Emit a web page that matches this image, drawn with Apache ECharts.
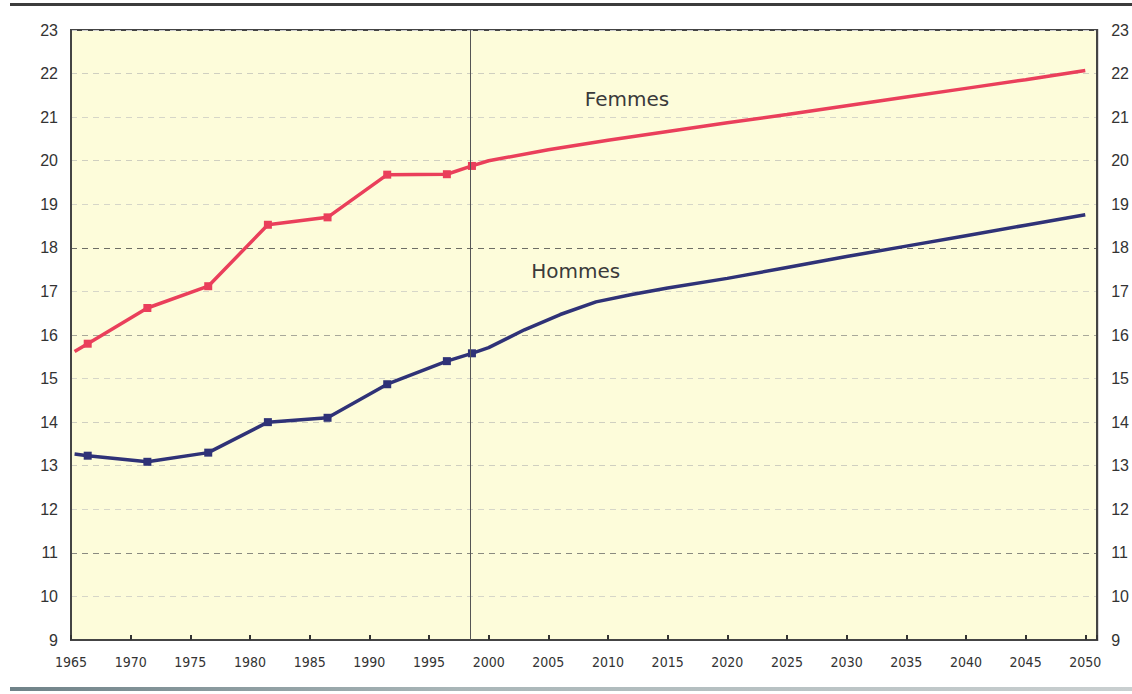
<!DOCTYPE html>
<html>
<head>
<meta charset="utf-8">
<script src="https://cdn.jsdelivr.net/npm/echarts@6/dist/echarts.min.js"></script>
<style>
  html, body { margin: 0; padding: 0; background: #fff; }
  #chart { width: 1132px; height: 694px; }
</style>
</head>
<body>
<div id="chart"></div>
<script>
// observed years (markers), then projection
var obsYears = [1965.3, 1966.4, 1971.4, 1976.5, 1981.5, 1986.5, 1991.5, 1996.5, 1998.6];
var femmesObs = [15.62, 15.8, 16.62, 17.12, 18.53, 18.7, 19.68, 19.69, 19.88];
var hommesObs = [13.27, 13.23, 13.09, 13.3, 14.0, 14.1, 14.87, 15.4, 15.58];

var femmesProjYears = [2000, 2005, 2010, 2015, 2020, 2025, 2030, 2035, 2040, 2045, 2050];
var femmesProj = [20.0, 20.25, 20.47, 20.67, 20.87, 21.06, 21.26, 21.46, 21.66, 21.86, 22.07];

var hommesProjYears = [2000, 2003, 2006, 2009, 2012, 2015, 2020, 2025, 2030, 2035, 2040, 2045, 2050];
var hommesProj = [15.71, 16.12, 16.47, 16.76, 16.93, 17.08, 17.3, 17.55, 17.8, 18.04, 18.28, 18.52, 18.76];

var markerIdx = [1, 2, 3, 4, 5, 6, 7, 8];   // observed points that carry a marker
var splitYear = 1998.5;

var red = '#ea3f5b';
var navy = '#2f3277';
var labelFont = 'Liberation Sans';

function buildLine(obs, projYears, proj) {
  var out = [];
  obsYears.forEach(function(y, i) {
    out.push({ value: [y, obs[i]], symbol: markerIdx.indexOf(i) >= 0 ? 'rect' : 'none' });
  });
  projYears.forEach(function(y, i) {
    out.push({ value: [y, proj[i]], symbol: 'none' });
  });
  return out;
}

function nameTag(text, coord) {
  return {
    symbol: 'circle',
    symbolSize: 1,
    itemStyle: { color: 'transparent' },
    label: { show: true, position: 'inside', formatter: text, color: '#3a3a3a', fontSize: 20, fontFamily: 'DejaVu Sans' },
    data: [{ coord: coord }]
  };
}

// darker dashes at 11, 16 and 18, lighter elsewhere (9..23)
var gridColors = ['#ccc', '#d6d6c8', '#8a8a80', '#d6d6c8', '#cfcfc0', '#cfcfc0', '#d6d6c8',
  '#a8a89a', '#d6d6c8', '#6e6e66', '#d6d6c8', '#cfcfc0', '#d6d6c8', '#cfcfc0', '#ccc'];

var chart = echarts.init(document.getElementById('chart'), null, { renderer: 'svg' });
chart.setOption({
  animation: false,
  backgroundColor: '#ffffff',
  grid: {
    left: 71, right: 34, top: 30, bottom: 54,
    show: true,
    backgroundColor: '#fdfcda',
    borderColor: '#444',
    borderWidth: 2
  },
  graphic: [
    { type: 'rect', shape: { x: 10, y: 3, width: 1122, height: 3 }, style: { fill: '#3c3c3c' } },
    { type: 'rect', shape: { x: 10, y: 687, width: 1122, height: 4 },
      style: { fill: new echarts.graphic.LinearGradient(0, 0, 1, 0, [
        { offset: 0, color: '#6f8288' }, { offset: 0.4, color: '#a9b6b8' }, { offset: 1, color: '#c9cfd0' }
      ]) } }
  ],
  xAxis: {
    type: 'value',
    min: 1965,
    max: 2051,
    interval: 5,
    axisLine: { show: true, lineStyle: { color: '#444', width: 2 } },
    axisTick: { show: true, inside: true, length: 5, lineStyle: { color: '#333', width: 2 } },
    axisLabel: {
      color: '#333', fontSize: 14, fontFamily: 'DejaVu Sans Condensed', margin: 15,
      formatter: function(v) { return v % 5 === 0 ? String(v) : ''; }
    },
    splitLine: { show: false }
  },
  yAxis: [{
    type: 'value',
    min: 9, max: 23, interval: 1,
    axisLine: { show: true, lineStyle: { color: '#444', width: 2 } },
    axisTick: { show: false },
    axisLabel: { color: '#333', fontSize: 16, fontFamily: labelFont, margin: 13 },
    splitLine: { show: true, lineStyle: { type: [6, 5], width: 1, color: gridColors } }
  }, {
    type: 'value',
    position: 'right',
    min: 9, max: 23, interval: 1,
    axisLine: { show: true, lineStyle: { color: '#444', width: 2 } },
    axisTick: { show: false },
    axisLabel: { color: '#333', fontSize: 16, fontFamily: labelFont, margin: 14 },
    splitLine: { show: false }
  }],
  series: [{
    name: 'Femmes',
    type: 'line',
    data: buildLine(femmesObs, femmesProjYears, femmesProj),
    symbolSize: 8,
    lineStyle: { color: red, width: 3.5 },
    itemStyle: { color: red },
    z: 3,
    markPoint: nameTag('Femmes', [2011.6, 21.42]),
    markLine: {
      silent: true,
      symbol: 'none',
      label: { show: false },
      lineStyle: { color: '#555', width: 1, type: 'solid' },
      data: [{ xAxis: splitYear }]
    }
  }, {
    name: 'Hommes',
    type: 'line',
    data: buildLine(hommesObs, hommesProjYears, hommesProj),
    symbolSize: 8,
    lineStyle: { color: navy, width: 3.5 },
    itemStyle: { color: navy },
    z: 3,
    markPoint: nameTag('Hommes', [2007.3, 17.46])
  }]
});
window.addEventListener('resize', function() { chart.resize(); });
</script>
</body>
</html>
